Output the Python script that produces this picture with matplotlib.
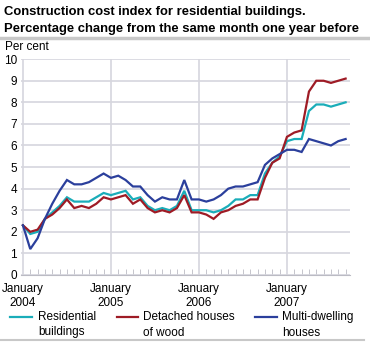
import numpy as np
import matplotlib
matplotlib.use('Agg')
import matplotlib.pyplot as plt
from matplotlib.lines import Line2D

plt.rcParams['font.family'] = ['Liberation Sans', 'DejaVu Sans']

# monthly values, January 2004 - September 2007
residential = [2.3, 1.9, 2.0, 2.6, 2.9, 3.2, 3.6, 3.4, 3.4, 3.4, 3.6, 3.8,
               3.7, 3.8, 3.9, 3.5, 3.6, 3.2, 3.0, 3.1, 3.0, 3.2, 3.9, 3.0,
               3.0, 3.0, 2.9, 3.0, 3.2, 3.5, 3.5, 3.7, 3.7, 4.7, 5.2, 5.5,
               6.2, 6.3, 6.3, 7.6, 7.9, 7.9, 7.8, 7.9, 8.0]
detached = [2.3, 2.0, 2.1, 2.6, 2.8, 3.1, 3.5, 3.1, 3.2, 3.1, 3.3, 3.6,
            3.5, 3.6, 3.7, 3.3, 3.5, 3.1, 2.9, 3.0, 2.9, 3.1, 3.7, 2.9,
            2.9, 2.8, 2.6, 2.9, 3.0, 3.2, 3.3, 3.5, 3.5, 4.5, 5.2, 5.4,
            6.4, 6.6, 6.7, 8.5, 9.0, 9.0, 8.9, 9.0, 9.1]
multi = [2.3, 1.2, 1.7, 2.6, 3.3, 3.9, 4.4, 4.2, 4.2, 4.3, 4.5, 4.7,
         4.5, 4.6, 4.4, 4.1, 4.1, 3.7, 3.4, 3.6, 3.5, 3.5, 4.4, 3.5,
         3.5, 3.4, 3.5, 3.7, 4.0, 4.1, 4.1, 4.2, 4.3, 5.1, 5.4, 5.6,
         5.8, 5.8, 5.7, 6.3, 6.2, 6.1, 6.0, 6.2, 6.3]
series_names = ['Residential\nbuildings', 'Detached houses\nof wood', 'Multi-dwelling\nhouses']
year_labels = ['January\n2004', 'January\n2005', 'January\n2006', 'January\n2007']
colors = ['#1AADB9', '#9E1B25', '#2B3F9C']

months = np.arange(len(residential))
grid_col = '#D6D6DE'
W, H = 370.0, 342.0

fig = plt.figure(figsize=(W / 100, H / 100), dpi=100)
ax = fig.add_axes([0.057, 0.196, 0.889, 0.631])

for vals, c in zip([residential, detached, multi], colors):
    ax.plot(months, vals, color=c, lw=1.6, solid_joinstyle='miter')

ax.set_xlim(-0.25, 44.6)
ax.set_ylim(0, 10)
ax.set_yticks(range(0, 11))
ax.set_xticks([0, 12, 24, 36])
ax.set_xticklabels(year_labels, fontsize=8.5, linespacing=1.25,
                   multialignment='center')
ax.set_xticks(months, minor=True)
ax.grid(axis='y', color=grid_col, lw=1.2)
ax.grid(axis='x', which='major', color=grid_col, lw=1.2)
ax.set_axisbelow(True)
for s in ['top', 'right', 'left']:
    ax.spines[s].set_visible(False)
ax.spines['bottom'].set_color('#BBBBC4')
ax.tick_params(axis='y', length=0, labelsize=8.5, pad=3)
ax.tick_params(axis='x', which='major', length=0, pad=5.5)
ax.tick_params(axis='x', which='minor', direction='in', length=4, color='#BBBBC4')

fig.text(0.011, 0.955, 'Construction cost index for residential buildings.',
         fontsize=9.4, fontweight='bold')
fig.text(0.011, 0.905, 'Percentage change from the same month one year before',
         fontsize=9.4, fontweight='bold')
fig.text(0.014, 0.855, 'Per cent', fontsize=8.5)

fig.add_artist(Line2D([0, 1], [0.888, 0.888], color='#C8C8C8', lw=2.5,
                      transform=fig.transFigure))
fig.add_artist(Line2D([0, 0.985], [0.006, 0.006], color='#C8C8C8', lw=1.5,
                      transform=fig.transFigure))

# legend drawn by hand: handle sits on the first text line
leg_pos = [(10, 32, 38), (117, 138, 143), (255, 277, 282)]
for (x0, x1, xt), name, c in zip(leg_pos, series_names, colors):
    fig.add_artist(Line2D([x0 / W, x1 / W], [1 - 317 / H, 1 - 317 / H], color=c,
                          lw=1.6, transform=fig.transFigure))
    fig.text(xt / W, 1 - 335.5 / H, name, fontsize=8.5, va='baseline',
             linespacing=1.4)

fig.savefig('out.png', dpi=100)
